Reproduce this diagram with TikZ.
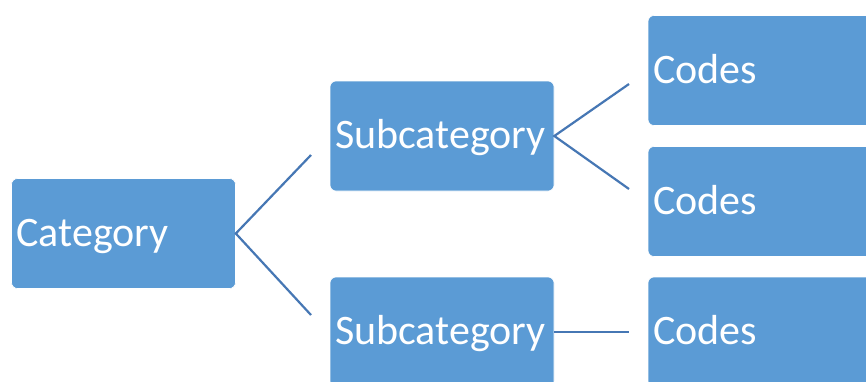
\documentclass[tikz,border=0pt]{standalone}
\usepackage{fontspec}
\setmainfont{Carlito}

\definecolor{boxblue}{HTML}{5B9BD5}
\definecolor{linkblue}{HTML}{4677B4}

\begin{document}
\begin{tikzpicture}[
    x=1pt, y=-1pt,
    item/.style={rectangle, rounded corners=6pt, fill=boxblue, draw=white, line width=0.6pt,
        minimum width=224pt, minimum height=110pt, inner xsep=5pt,
        text height=25pt, text depth=0pt,
        text width=214pt, align=left, text=white, font=\fontsize{42}{46}\selectfont},
    link/.style={draw=linkblue, line width=2.2pt}
]
    \useasboundingbox (0,0) rectangle (866,381);
    \clip (0,0) rectangle (866,381);
    \fill[white] (0,0) rectangle (866,381);

    % Boxes
    \node[item] (cat) at (123.5,233.5) {Category};
    \node[item] (sub1) at (442,136) {Subcategory};
    \node[item] (sub2) at (442,332) {Subcategory};
    \node[item] (code1) at (760,70.5) {Codes};
    \node[item] (code2) at (760,201.5) {Codes};
    \node[item] (code3) at (760,332) {Codes};

    % Open ends of the branches
    \coordinate (catup) at (311,155);
    \coordinate (catdown) at (311,315);
    \coordinate (subup) at (629,84);
    \coordinate (subdown) at (629,189);
    \coordinate (subright) at (629,332);

    % Branches
    \draw[link] (catup) -- (cat.east) -- (catdown);
    \draw[link] (subup) -- (sub1.east) -- (subdown);
    \draw[link] (sub2.east) -- (subright);
\end{tikzpicture}
\end{document}
